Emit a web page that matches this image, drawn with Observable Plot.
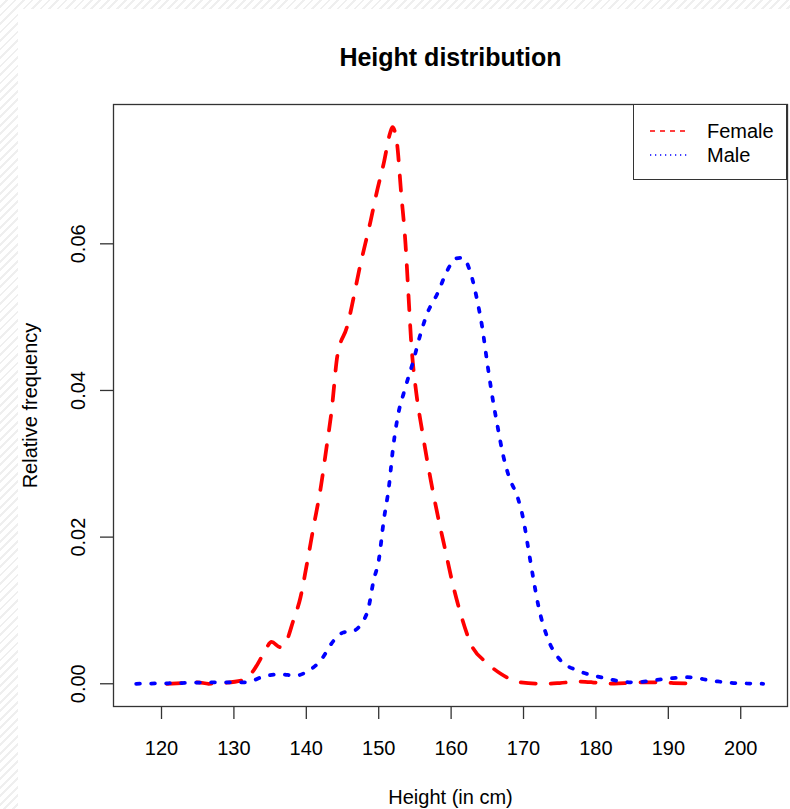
<!DOCTYPE html>
<html>
<head>
<meta charset="utf-8">
<script src="https://cdn.jsdelivr.net/npm/d3@7"></script>
<script src="https://cdn.jsdelivr.net/npm/@observablehq/plot@0.6"></script>
<style>
  html, body { margin: 0; padding: 0; background: #fff; }
  #wrap {
    position: relative; width: 790px; height: 809px; overflow: hidden;
    background: repeating-linear-gradient(135deg, #ffffff 0px, #ffffff 4px, #efefef 4px, #efefef 6px);
    font-family: "Liberation Sans", Arial, Helvetica, sans-serif;
  }
  #paper { position: absolute; left: 18px; top: 9px; right: 0; bottom: 0; background: #fff; }
  #chart { position: absolute; left: 0; top: 0; }
  #legend {
    position: absolute; left: 633px; top: 104px; width: 154px; height: 76px;
    box-sizing: border-box; border: 1.3px solid #333; background: #fff;
  }
  #legend svg { position: absolute; left: -1.3px; top: -1.3px; }
</style>
</head>
<body>
<div id="wrap">
  <div id="paper"></div>
  <div id="chart"></div>
  <div id="legend"></div>
</div>
<script>
// ---- data ----
const title = "Height distribution";
const xLabel = "Height (in cm)";
const yLabel = "Relative frequency";
const seriesNames = ["Female", "Male"];
const xTicks = [120, 130, 140, 150, 160, 170, 180, 190, 200];
const yTicks = [0, 0.02, 0.04, 0.06];

const femaleHeight = [120.7, 123, 125, 126.5, 128.5, 131.3, 132.7, 134.1, 135.2, 136.4, 137.1, 138.2, 139.2, 140, 141, 142, 142.8, 143.5, 144.3, 145.6, 147.5, 148.9, 149.7, 150.7, 151.6, 151.9, 152.5, 153.1, 153.7, 154.1, 154.5, 155.2, 156, 157.2, 158.1, 159.2, 160.2, 161.3, 162.7, 165, 166.8, 169.6, 172.8, 175, 177.5, 179.5, 181.6, 184, 186.6, 190.7, 194];
const femaleFreq   = [0, 0.0001, 0.0002, 0, 0.0001, 0.0005, 0.0018, 0.0041, 0.0057, 0.005, 0.0055, 0.0086, 0.0118, 0.0159, 0.0214, 0.0268, 0.0323, 0.0373, 0.0448, 0.0486, 0.0573, 0.0632, 0.0669, 0.071, 0.0752, 0.0759, 0.0739, 0.0669, 0.06, 0.0532, 0.0464, 0.0396, 0.0345, 0.0277, 0.0232, 0.0182, 0.0137, 0.0096, 0.0055, 0.0028, 0.0014, 0.0002, 0, 0.0001, 0.0003, 0.0002, 0, 0.0001, 0.0002, 0.0001, 0];

const maleHeight = [116.5, 122.6, 127.2, 131.7, 134.1, 136.4, 138.5, 140, 142, 143.8, 145.1, 146.5, 147.6, 148.6, 149.3, 150, 150.7, 151.4, 152, 152.7, 153.5, 154.8, 155.8, 156.7, 158.1, 159.5, 160.6, 161.6, 162.7, 163.6, 164.3, 165, 165.7, 166.4, 167.2, 168, 169.2, 170, 170.7, 171.4, 172.1, 173.3, 175.1, 177.5, 180.6, 185.2, 189.9, 192.6, 196.2, 199, 203.1];
const maleFreq   = [0, 0.0001, 0.0002, 0.0002, 0.001, 0.0013, 0.0011, 0.0016, 0.0032, 0.0059, 0.007, 0.0072, 0.0082, 0.0104, 0.0141, 0.0168, 0.0223, 0.0268, 0.0323, 0.0368, 0.0398, 0.0441, 0.0478, 0.0505, 0.0532, 0.0564, 0.058, 0.0581, 0.056, 0.0523, 0.0486, 0.0437, 0.0391, 0.0352, 0.0311, 0.0282, 0.0254, 0.0223, 0.0182, 0.0141, 0.0104, 0.0063, 0.0032, 0.0018, 0.0009, 0.0002, 0.0007, 0.0009, 0.0004, 0.0001, 0];

const colors = {Female: "#ff0000", Male: "#0000ff"};

// ---- build tables ----
const female = femaleHeight.map((h, i) => ({h, f: femaleFreq[i]}));
const male = maleHeight.map((h, i) => ({h, f: maleFreq[i]}));

const fontFam = "'Liberation Sans', Arial, Helvetica, sans-serif";

const chart = Plot.plot({
  width: 790,
  height: 809,
  marginLeft: 113,
  marginRight: 3,
  marginTop: 104,
  marginBottom: 103,
  style: {background: "transparent", fontFamily: fontFam, fontSize: "20px", color: "#000", overflow: "visible"},
  x: {domain: [113.37, 206.46]},
  y: {domain: [-0.0031, 0.0790]},
  marks: [
    Plot.axisX(xTicks, {tickSize: 13, tickPadding: 21, label: null, stroke: "#333", strokeWidth: 1.3, fill: "#000", fontSize: 20}),
    Plot.axisY(yTicks, {tickSize: 13, tickFormat: () => "", label: null, stroke: "#333", strokeWidth: 1.3}),
    Plot.text(yTicks, {y: d => d, frameAnchor: "left", textAnchor: "middle", lineAnchor: "middle", dx: -35, rotate: -90, text: d => d.toFixed(2), fontSize: 20, fill: "#000"}),
    Plot.text([yLabel], {frameAnchor: "left", textAnchor: "middle", lineAnchor: "middle", dx: -83, rotate: -90, fontSize: 20, fill: "#000"}),
    Plot.text([xLabel], {frameAnchor: "bottom", lineAnchor: "middle", dy: 91, fontSize: 20, fill: "#000"}),
    Plot.text([title], {frameAnchor: "top", lineAnchor: "middle", dy: -47, fontSize: 25, fontWeight: "bold", fill: "#000"}),
    Plot.line(female, {x: "h", y: "f", stroke: colors.Female, strokeWidth: 3.75, strokeDasharray: "15,15", strokeLinecap: "round", strokeLinejoin: "round", curve: "monotone-x"}),
    Plot.line(male, {x: "h", y: "f", stroke: colors.Male, strokeWidth: 3.75, strokeDasharray: "3.75,11.25", strokeLinecap: "round", strokeLinejoin: "round", curve: "monotone-x"}),
    Plot.frame({stroke: "#333", strokeWidth: 1.3})
  ]
});
document.getElementById("chart").appendChild(chart);

// ---- legend (inside plot area, top-right) ----
const lg = d3.select("#legend").append("svg").attr("width", 154).attr("height", 76)
  .style("font-family", fontFam);
const dashes = {Female: "5,5", Male: "1.25,3.75"};
seriesNames.forEach((name, i) => {
  const cy = 27 + i * 24;
  lg.append("line").attr("x1", 17).attr("x2", 57).attr("y1", cy).attr("y2", cy)
    .attr("stroke", colors[name]).attr("stroke-width", 1.3).attr("stroke-dasharray", dashes[name]);
  lg.append("text").attr("x", 74).attr("y", cy).attr("dy", "0.35em")
    .attr("font-size", 20).attr("fill", "#000").text(name);
});
</script>
</body>
</html>
